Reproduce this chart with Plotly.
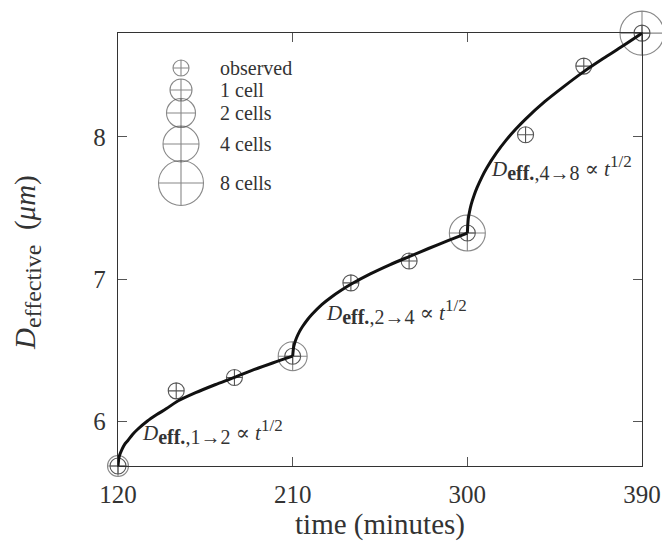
import plotly.graph_objects as go

# ---------------- data ----------------
obs_time = [120, 150, 180, 210, 240, 270, 300, 330, 360, 390]
obs_D = [5.684, 6.213, 6.307, 6.457, 6.973, 7.127, 7.324, 8.016, 8.499, 8.731]

cell_time = [120, 210, 300, 390]
cell_D = [5.684, 6.457, 7.324, 8.731]
cell_count = [1, 2, 4, 8]

# fitted t^(1/2) curves
seg1_t = [120, 120.5, 121, 122, 123.5, 125, 127.5, 130, 135, 140, 145, 150, 160, 170, 180, 190, 200, 210]
seg1_D = [5.684, 5.742, 5.766, 5.799, 5.838, 5.862, 5.906, 5.941, 5.999, 6.046, 6.088, 6.135, 6.200, 6.256,
          6.308, 6.362, 6.411, 6.457]
seg2_t = [210, 210.5, 211, 212, 213.5, 215, 217.5, 220, 225, 230, 235, 240, 250, 260, 270, 280, 290, 300]
seg2_D = [6.457, 6.522, 6.548, 6.587, 6.630, 6.664, 6.712, 6.752, 6.820, 6.874, 6.921, 6.963, 7.036, 7.100,
          7.158, 7.215, 7.270, 7.324]
seg3_t = [300, 300.5, 301, 302, 303.5, 305, 307.5, 310, 315, 320, 325, 330, 340, 350, 360, 370, 380, 390]
seg3_D = [7.324, 7.425, 7.465, 7.525, 7.590, 7.643, 7.718, 7.782, 7.888, 7.978, 8.056, 8.126, 8.250, 8.358,
          8.460, 8.552, 8.640, 8.731]

x_ticks = [120, 210, 300, 390]
y_ticks = [6, 7, 8]

ann_labels = ["1→2", "2→4", "4→8"]
legend_labels = ["observed", "1 cell", "2 cells", "4 cells", "8 cells"]

# ---------------- styles / layout positions ----------------
FONT = "Liberation Serif, Times New Roman, DejaVu Serif, serif"
TXT = "#333333"
MARK_COLOR = "#555555"
obs_size = 16
cell_size = {1: 21, 2: 29, 4: 36, 8: 44}
legend_sizes = [16, 22, 29, 36, 45]
legend_y_px = [35, 57, 80, 111, 150]      # px from top of plot area
legend_x_px = 63
legend_text_x_px = 100
ann_pos = [(131.5, 5.925), (226.0, 6.769), (311.0, 7.783)]

W, H = 662, 544
ML, MR, MT, MB = 118, 20, 33, 78
PW, PH = W - ML - MR, H - MT - MB

fig = go.Figure()

fig.add_trace(go.Scatter(
    x=cell_time, y=cell_D, mode="markers", cliponaxis=False, showlegend=False,
    marker=dict(symbol="circle-cross-open", size=[cell_size[c] for c in cell_count],
                color=MARK_COLOR, line=dict(width=1.1, color=MARK_COLOR)),
))
fig.add_trace(go.Scatter(
    x=obs_time, y=obs_D, mode="markers", cliponaxis=False, showlegend=False,
    marker=dict(symbol="circle-cross-open", size=obs_size,
                color=MARK_COLOR, line=dict(width=1.1, color=MARK_COLOR)),
))

for t, d in [(seg1_t, seg1_D), (seg2_t, seg2_D), (seg3_t, seg3_D)]:
    fig.add_trace(go.Scatter(
        x=t, y=d, mode="lines", cliponaxis=False, showlegend=False,
        line=dict(color="#111111", width=3, shape="spline", smoothing=0.8),
    ))

# hand-drawn legend on an overlay pixel axis
fig.add_trace(go.Scatter(
    x=[legend_x_px] * len(legend_labels), y=legend_y_px, xaxis="x2", yaxis="y2",
    mode="markers", cliponaxis=False, showlegend=False,
    marker=dict(symbol="circle-cross-open", size=legend_sizes,
                color=MARK_COLOR, line=dict(width=1.1, color=MARK_COLOR)),
))

annotations = []
for lab, yy in zip(legend_labels, legend_y_px):
    annotations.append(dict(
        x=legend_text_x_px, y=yy, xref="x2", yref="y2", text=lab, showarrow=False,
        xanchor="left", yanchor="middle", font=dict(family=FONT, size=20, color=TXT),
    ))
for lab, (ax, ay) in zip(ann_labels, ann_pos):
    txt = ("<i>D</i><sub><span style='font-size:20px'><b>eff.</b>," + lab + "</span></sub>"
           " ∝ <i>t</i><sup><span style='font-size:17px'>1/2</span></sup>")
    annotations.append(dict(
        x=ax, y=ay, xref="x", yref="y", text=txt, showarrow=False,
        xanchor="left", yanchor="middle", font=dict(family=FONT, size=21, color=TXT),
    ))
# y axis title (centre at ~y=263 px of the window)
annotations.append(dict(
    x=-(ML - 27) / PW, y=(PH - (263 - MT)) / PH, xref="paper", yref="paper",
    textangle=-90,
    text="<i>D</i><sub><span style='font-size:24px'>effective</span></sub>&nbsp;&nbsp;(<i>μm</i>)",
    showarrow=False,
    xanchor="center", yanchor="middle", font=dict(family=FONT, size=29, color=TXT),
))

axis_common = dict(
    showline=True, linecolor="#333333", linewidth=1.3, mirror="ticks",
    ticks="inside", ticklen=9, tickwidth=1, tickcolor="#555555",
    showgrid=False, zeroline=False, automargin=False,
    tickfont=dict(family=FONT, size=25, color=TXT),
)

fig.update_layout(
    width=W, height=H,
    margin=dict(l=ML, r=MR, t=MT, b=MB, autoexpand=False),
    paper_bgcolor="white", plot_bgcolor="white",
    font=dict(family=FONT, color=TXT),
    xaxis=dict(range=[120, 390], tickvals=x_ticks, ticklabelstandoff=6,
               title=dict(text="time (minutes)", font=dict(family=FONT, size=29, color=TXT),
                          standoff=6),
               **axis_common),
    yaxis=dict(range=[5.684, 8.732], tickvals=y_ticks, ticklabelstandoff=6, **axis_common),
    xaxis2=dict(range=[0, PW], overlaying="x", visible=False, fixedrange=True),
    yaxis2=dict(range=[PH, 0], overlaying="y", visible=False, fixedrange=True),
    annotations=annotations,
    showlegend=False,
)

fig.write_html(
    "out.html",
    config={"displayModeBar": False, "staticPlot": True},
    post_script="document.body.style.margin='0';document.body.style.overflow='hidden';",
)
